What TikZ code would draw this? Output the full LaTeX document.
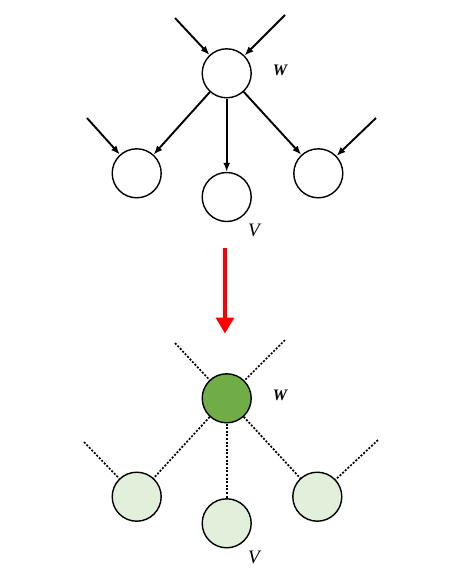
\documentclass[tikz,border=0pt]{standalone}
\usepackage{fontspec}
\setmainfont{Liberation Serif}
\usetikzlibrary{arrows.meta}
\definecolor{darkgreen}{HTML}{70AD47}
\definecolor{lightgreen}{HTML}{E2EFDA}
\begin{document}
\begin{tikzpicture}
    [x=1pt, y=-1pt,
 vertex/.style ={circle, draw=black, line width=1.4pt, minimum size=49pt, inner sep=0pt},
 active/.style ={vertex, fill=darkgreen},
 neighbour/.style ={vertex, fill=lightgreen},
 line/.style ={draw, line width=1.9pt, -{Latex[length=9pt,width=7pt]}},
 link/.style ={draw, line width=1.7pt, dash pattern=on 2pt off 1.6pt},
 wlbl/.style ={font=\fontsize{16}{18}\selectfont\bfseries\itshape},
 vlbl/.style ={font=\fontsize{19}{21}\selectfont\itshape}]
    \useasboundingbox (0,0) rectangle (457,584);
    % before
    \node[vertex] (w) at (226.7, 73.3) {};
    \node[vertex] (l) at (136.7, 173.3) {};
    \node[vertex] (v) at (226.7, 197) {};
    \node[vertex] (r) at (318.3, 173.3) {};
    \coordinate (wa) at (175, 18);
    \coordinate (wb) at (285, 15);
    \coordinate (la) at (87, 118);
    \coordinate (ra) at (376, 118);
    \draw[line] (wa) -- (w);
    \draw[line] (wb) -- (w);
    \draw[line] (la) -- (l);
    \draw[line] (ra) -- (r);
    \draw[line] (w) -- (l);
    \draw[line] (w) -- (v);
    \draw[line] (w) -- (r);
    \node[wlbl] at (280, 70) {W};
    \node[vlbl] at (254, 230) {V};
    % transformation
    \coordinate (top) at (225, 248);
    \coordinate (bot) at (225, 333.5);
    \draw[red, line width=3.3pt, -{Triangle[length=16pt,width=18pt]}] (top) -- (bot);
    % after
    \node[active] (w2) at (226.7, 398.3) {};
    \node[neighbour] (l2) at (136.7, 496.7) {};
    \node[neighbour] (v2) at (226.7, 523.3) {};
    \node[neighbour] (r2) at (317.3, 496.7) {};
    \coordinate (wa2) at (175, 343);
    \coordinate (wb2) at (285, 340);
    \coordinate (la2) at (84, 442);
    \coordinate (ra2) at (378, 440);
    \draw[link] (wa2) -- (w2);
    \draw[link] (wb2) -- (w2);
    \draw[link] (la2) -- (l2);
    \draw[link] (ra2) -- (r2);
    \draw[link] (w2) -- (l2);
    \draw[link] (w2) -- (v2);
    \draw[link] (w2) -- (r2);
    \node[wlbl] at (280, 395) {W};
    \node[vlbl] at (254, 557) {V};
\end{tikzpicture}
\end{document}
